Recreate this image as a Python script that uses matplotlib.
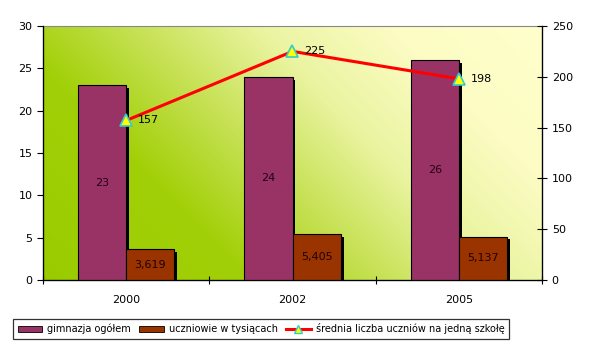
import numpy as np
import matplotlib
matplotlib.use("Agg")
import matplotlib.pyplot as plt
from matplotlib.colors import LinearSegmentedColormap
import matplotlib.patheffects as pe
from matplotlib.lines import Line2D
from matplotlib.patches import Patch

years = ["2000", "2002", "2005"]
gimnazja = [23, 24, 26]
uczniowie = [3.619, 5.405, 5.137]
uczniowie_labels = ["3,619", "5,405", "5,137"]
srednia = [157, 225, 198]

plt.rcParams['font.family'] = ['DejaVu Sans']
fig = plt.figure(figsize=(5.91, 3.53), dpi=100)
ax = fig.add_axes([43/591, 1-280/353, (542-43)/591, (280-26)/353])

# gradient background
nx, ny = 400, 200
xx, yy = np.meshgrid(np.linspace(0, 1, nx), np.linspace(0, 1, ny))
t = (xx + 0.5*yy) / 1.5
cmap = LinearSegmentedColormap.from_list(
    "bg", [(0.0, "#99cc00"), (0.28, "#a2d008"), (0.46, "#c8e258"), (0.62, "#eaf4a0"),
           (0.8, "#fcfcc4"), (1.0, "#ffffcc")], N=256)
ax.imshow(t, cmap=cmap, extent=[-0.5, 2.5, 0, 30], origin="lower", aspect="auto", zorder=0,
          interpolation="bilinear", vmin=0, vmax=1)

x = np.arange(len(years))
w = 0.29
shadow = [pe.SimplePatchShadow(offset=(2, -2), shadow_rgbFace="black", alpha=1.0), pe.Normal()]
b1 = ax.bar(x - w/2, gimnazja, w, color="#993366", edgecolor="black", linewidth=0.8, zorder=3)
b2 = ax.bar(x + w/2, uczniowie, w, color="#993300", edgecolor="black", linewidth=0.8, zorder=3)
for b in list(b1) + list(b2):
    b.set_path_effects(shadow)
for xi, v in zip(x, gimnazja):
    ax.text(xi - w/2, v/2, str(v), ha="center", va="center", fontsize=8, color="#220011", zorder=5)
for xi, v, lab in zip(x, uczniowie, uczniowie_labels):
    ax.text(xi + w/2, v/2, lab, ha="center", va="center", fontsize=8, color="#220000", zorder=5)

ax.set_xlim(-0.5, 2.5)
ax.set_ylim(0, 30)
ax.set_yticks(range(0, 31, 5))
ax.set_xticks(x)
ax.set_xticklabels(years)
ax.set_xticks([-0.5, 0.5, 1.5, 2.5], minor=True)
ax.tick_params(axis="x", which="major", length=0, pad=11, labelsize=8)
ax.tick_params(axis="x", which="minor", length=6, direction="inout", width=0.8)
ax.tick_params(axis="y", length=4, direction="out", labelsize=8, width=0.8)
ax.spines["top"].set_color("#888888")
for s in ["left", "bottom"]:
    ax.spines[s].set_linewidth(0.9)

ax2 = ax.twinx()
ax2.set_ylim(0, 250)
ax2.set_yticks(range(0, 251, 50))
ax2.tick_params(axis="y", length=7, direction="inout", labelsize=8, width=0.8)
ax2.plot(x, srednia, color="#ff0000", linewidth=2.2, zorder=4)
ax2.plot(x, srednia, linestyle="none", marker="^", markersize=9, markerfacecolor="#ffff00",
         markeredgecolor="#33cccc", markeredgewidth=1.2, zorder=5)
for xi, v in zip(x, srednia):
    ax2.text(xi + 0.07, v, str(v), ha="left", va="center", fontsize=8, zorder=6)
ax2.spines["top"].set_visible(False)
ax2.spines["right"].set_linewidth(0.9)

handles = [Patch(facecolor="#993366", edgecolor="black", linewidth=0.6),
           Patch(facecolor="#993300", edgecolor="black", linewidth=0.6),
           Line2D([0], [0], color="#ff0000", linewidth=2.2, marker="^", markersize=6,
                  markerfacecolor="#ffff00", markeredgecolor="#33cccc")]
labels = ["gimnazja ogółem", "uczniowie w tysiącach", "średnia liczba uczniów na jedną szkołę"]
leg = fig.legend(handles, labels, loc="center", bbox_to_anchor=(261/591, 1-329/353), ncol=3,
                 fontsize=7, frameon=True, fancybox=False, edgecolor="black",
                 handlelength=2.5, handletextpad=0.5, columnspacing=0.9, borderpad=0.45,
                 handleheight=0.55, borderaxespad=0)
leg.get_frame().set_linewidth(0.9)

fig.savefig("out.png", dpi=100)
